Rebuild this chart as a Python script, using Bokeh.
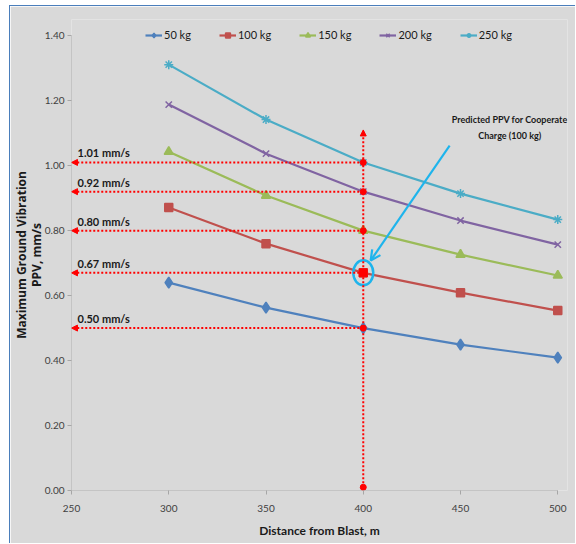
from bokeh.plotting import figure
from bokeh.models import (ColumnDataSource, Arrow, NormalHead, OpenHead, Legend,
                          LegendItem, FixedTicker, NumeralTickFormatter, Label)
from bokeh.core.properties import value
from bokeh.embed import file_html
from bokeh.resources import INLINE

# ---------------- data ----------------
distance = [300, 350, 400, 450, 500]
ppv_50 = [0.640, 0.563, 0.500, 0.449, 0.409]
ppv_100 = [0.871, 0.760, 0.670, 0.609, 0.554]
ppv_150 = [1.043, 0.908, 0.800, 0.726, 0.662]
ppv_200 = [1.188, 1.037, 0.920, 0.831, 0.757]
ppv_250 = [1.311, 1.142, 1.010, 0.914, 0.834]
series_names = ["50 kg", "100 kg", "150 kg", "200 kg", "250 kg"]

ref_distance = 400
ref_values = [1.01, 0.92, 0.80, 0.67, 0.50]
ref_bottom = 0.01
ref_top = 1.11

x_ticks = [250, 300, 350, 400, 450, 500]
y_ticks = [0.0, 0.2, 0.4, 0.6, 0.8, 1.0, 1.2, 1.4]

note_text = "Predicted PPV for Cooperate\nCharge (100 kg)"
note_x, note_y = 475.3, 1.16
note_arrow_start = (444.4, 1.062)
note_arrow_end = (403.8, 0.708)
pred_value = 0.67

# ---------------- styles ----------------
BG = "#d9d9d9"
AXIS = "#a6a6a6"
colors = ["#4f81bd", "#c0504d", "#9bbb59", "#8064a2", "#4bacc6"]
markers = ["diamond", "square", "triangle", "x", "asterisk"]
msizes = [11, 8, 9, 9, 9]
RED = "#ff0000"
CYAN = "#1eb4ec"
FONT = "Lato"

# ranges padded slightly beyond the last tick so annotations are not clipped
p = figure(width=566, height=538, output_backend="svg", toolbar_location=None,
           x_range=(250, 505), y_range=(0, 1.45),
           min_border_left=61, min_border_right=9, min_border_top=13,
           min_border_bottom=54)
p.styles = {"margin-left": "9px", "margin-top": "5px",
            "border-left": "1px solid #4a7ebb", "border-top": "1px solid #4a7ebb"}
p.background_fill_color = BG
p.border_fill_color = BG
p.outline_line_color = None
p.grid.grid_line_color = None

for ax in (p.xaxis, p.yaxis):
    ax.axis_line_color = None
    ax.major_tick_line_color = AXIS
    ax.minor_tick_line_color = None
    ax.major_tick_out = 4
    ax.major_tick_in = 0
    ax.major_label_text_font = FONT
    ax.major_label_text_font_size = "10px"
    ax.major_label_text_color = "#404040"
    ax.axis_label_text_font_style = "bold"
    ax.axis_label_text_color = "#1a1a1a"

p.xaxis.ticker = FixedTicker(ticks=x_ticks)
p.yaxis.ticker = FixedTicker(ticks=y_ticks)
p.xaxis.formatter = NumeralTickFormatter(format="0")
p.yaxis.formatter = NumeralTickFormatter(format="0.00")
p.xaxis.major_label_standoff = 10
p.yaxis.major_label_standoff = 3
p.xaxis.axis_label = "Distance from Blast, m"
p.xaxis.axis_label_text_font = FONT
p.xaxis.axis_label_text_font_size = "12px"
p.xaxis.axis_label_standoff = 8
p.yaxis.axis_label = "Maximum Ground Vibration\nPPV, mm/s"
p.yaxis.axis_label_text_font = "Open Sans"
p.yaxis.axis_label_text_font_size = "12px"
p.yaxis.axis_label_text_line_height = 0.85
p.yaxis.axis_label_standoff = -3

# axis lines ending at the last tick
p.segment(x0=[x_ticks[0], x_ticks[0]], y0=[y_ticks[0], y_ticks[0]],
          x1=[x_ticks[-1], x_ticks[0]], y1=[y_ticks[0], y_ticks[-1]],
          line_color=AXIS, line_width=1)

# ---------------- red dotted reference lines ----------------
ref_src = ColumnDataSource(dict(
    x0=[ref_distance] * len(ref_values), x1=[x_ticks[0]] * len(ref_values),
    y=ref_values, lab=[f"{v:.2f} mm/s" for v in ref_values]))
p.add_layout(Arrow(source=ref_src, x_start="x0", y_start="y", x_end="x1", y_end="y",
                   line_color=RED, line_width=2, line_dash="2 2",
                   end=NormalHead(size=6, fill_color=RED, line_color=RED)))
v_src = ColumnDataSource(dict(x=[ref_distance], y0=[ref_bottom], y1=[ref_top]))
p.add_layout(Arrow(source=v_src, x_start="x", y_start="y0", x_end="x", y_end="y1",
                   line_color=RED, line_width=2, line_dash="2 2",
                   end=NormalHead(size=6, fill_color=RED, line_color=RED)))

# ---------------- series ----------------
legend_items = []
all_series = [ppv_50, ppv_100, ppv_150, ppv_200, ppv_250]
for name, ys, c, m, s in zip(series_names, all_series, colors, markers, msizes):
    src = ColumnDataSource(dict(x=distance, y=ys))
    r1 = p.line("x", "y", source=src, line_color=c, line_width=2.2)
    r2 = p.scatter("x", "y", source=src, marker=m, size=s, fill_color=c,
                   line_color=c, line_width=1.5)
    legend_items.append(LegendItem(label=name, renderers=[r1, r2]))

# red dots at intersections
p.scatter([ref_distance] * len(ref_values), ref_values, marker="circle", size=6,
          fill_color=RED, line_color=RED)
p.scatter([ref_distance], [ref_bottom], marker="circle", size=6,
          fill_color=RED, line_color=RED)
p.scatter([ref_distance], [pred_value], marker="square", size=8,
          fill_color=RED, line_color=RED)

# value labels
p.text("x1", "y", text="lab", source=ref_src, x_offset=6, y_offset=-3,
       text_font=value(FONT), text_font_style="bold", text_font_size="11px",
       text_color="#1a1a1a", text_baseline="bottom", text_align="left")

# cyan highlight ellipse
p.ellipse(x=[ref_distance], y=[pred_value], width=20, height=25,
          width_units="screen", height_units="screen",
          fill_alpha=0, line_color=CYAN, line_width=2.5)

# annotation arrow + text
p.add_layout(Arrow(x_start=note_arrow_start[0], y_start=note_arrow_start[1],
                   x_end=note_arrow_end[0], y_end=note_arrow_end[1],
                   line_color=CYAN, line_width=2.2,
                   end=OpenHead(size=10, line_color=CYAN, line_width=2.2)))
p.add_layout(Label(x=note_x, y=note_y, text=note_text, text_font=FONT,
                   text_font_style="bold", text_font_size="9px",
                   text_color="#1a1a1a", text_align="center",
                   text_baseline="top", text_line_height=1.45))

legend = Legend(items=legend_items, orientation="horizontal", location=(74, 449),
                background_fill_alpha=0, border_line_alpha=0, padding=0, margin=0,
                spacing=28, glyph_width=17, glyph_height=12, label_standoff=2,
                label_text_font=FONT, label_text_font_size="11px",
                label_text_color="#1a1a1a", label_height=12)
p.add_layout(legend, "center")

open("out.html", "w").write(file_html(p, INLINE))
